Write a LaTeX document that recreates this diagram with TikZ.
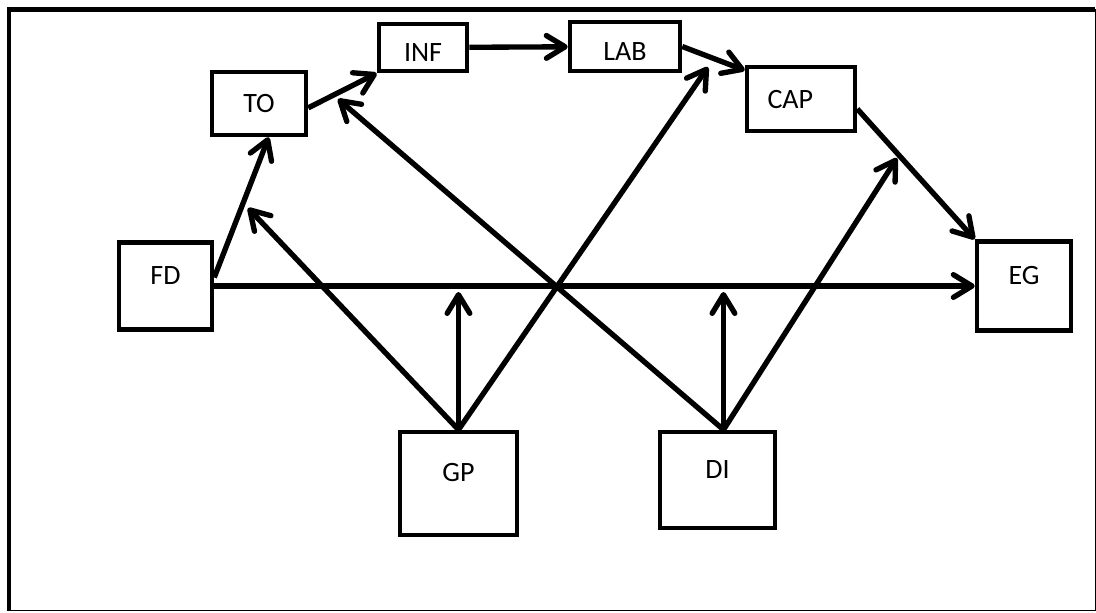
\documentclass[tikz,border=0pt]{standalone}
\usepackage{fontspec}
\setmainfont{Carlito}
\usetikzlibrary{arrows.meta}
\usetikzlibrary{positioning}
\usetikzlibrary{calc}

\begin{document}
\begin{tikzpicture}[x=0.75pt,y=-0.75pt,>={Straight Barb[length=14pt,width=17pt,round]}]
\tikzstyle{box}=[draw,line width=3.4pt,inner sep=0pt,font=\fontsize{21}{25}\selectfont,text height=13.5pt,text depth=0pt]
\tikzstyle{lowbox}=[box,text height=21pt]
\tikzstyle{highbox}=[box,text depth=16.5pt]
\tikzstyle{link}=[->,line width=4pt]

\useasboundingbox (0,0) rectangle (1096,612);
\draw[line width=0.75pt] (9,9.5) rectangle (1095,610.5);
\draw[line width=3.3pt] (9,610.5) |- (1095,9.5);

\node[highbox,minimum width=69.75pt,minimum height=65.25pt] (fd) at (165.5,286) {FD};
\node[box,minimum width=70.5pt,minimum height=47.25pt] (to) at (259,103.5) {TO};
\node[lowbox,minimum width=66pt,minimum height=35.25pt] (inf) at (423,47.5) {INF};
\node[lowbox,minimum width=82.5pt,minimum height=36.75pt] (lab) at (625,46.5) {LAB};
\node[box,minimum width=81pt,minimum height=48pt] (cap) at (801,99) {CAP\hspace*{16pt}};
\node[highbox,minimum width=70.5pt,minimum height=66.75pt] (eg) at (1024,286) {EG};
\node[highbox,minimum width=87.75pt,minimum height=77.25pt] (gp) at (458.5,483.5) {GP};
\node[highbox,minimum width=86.25pt,minimum height=72pt] (di) at (717.5,480) {DI};

\draw[link] (fd.10) -- (to.-74);
\draw[link] (to.-5) -- (inf.south west);
\draw[link] (inf) -- (lab);
\draw[link] (lab.east) -- (cap.153);
\draw[link] (cap.-10) -- (eg.north west);
\draw[link] (fd.east) -- (fd.east -| eg.west);

% moderating arrows
\coordinate (gpto) at (248,208);
\coordinate (gpeg) at ($(gp.north |- fd.east)+(0,6)$);
\coordinate (gpcap) at (708,67);
\coordinate (dist) at ($(di.north)+(6,0)$);
\coordinate (dito) at (338,99);
\coordinate (dieg) at ($(dist |- fd.east)+(0,6)$);
\coordinate (dicap) at (897,158);
\draw[link] (gp.north) -- (gpto);
\draw[link] (gp.north) -- (gpeg);
\draw[link] (gp.north) -- (gpcap);
\draw[link] (dist) -- (dito);
\draw[link] (dist) -- (dieg);
\draw[link] (dist) -- (dicap);
\end{tikzpicture}
\end{document}
